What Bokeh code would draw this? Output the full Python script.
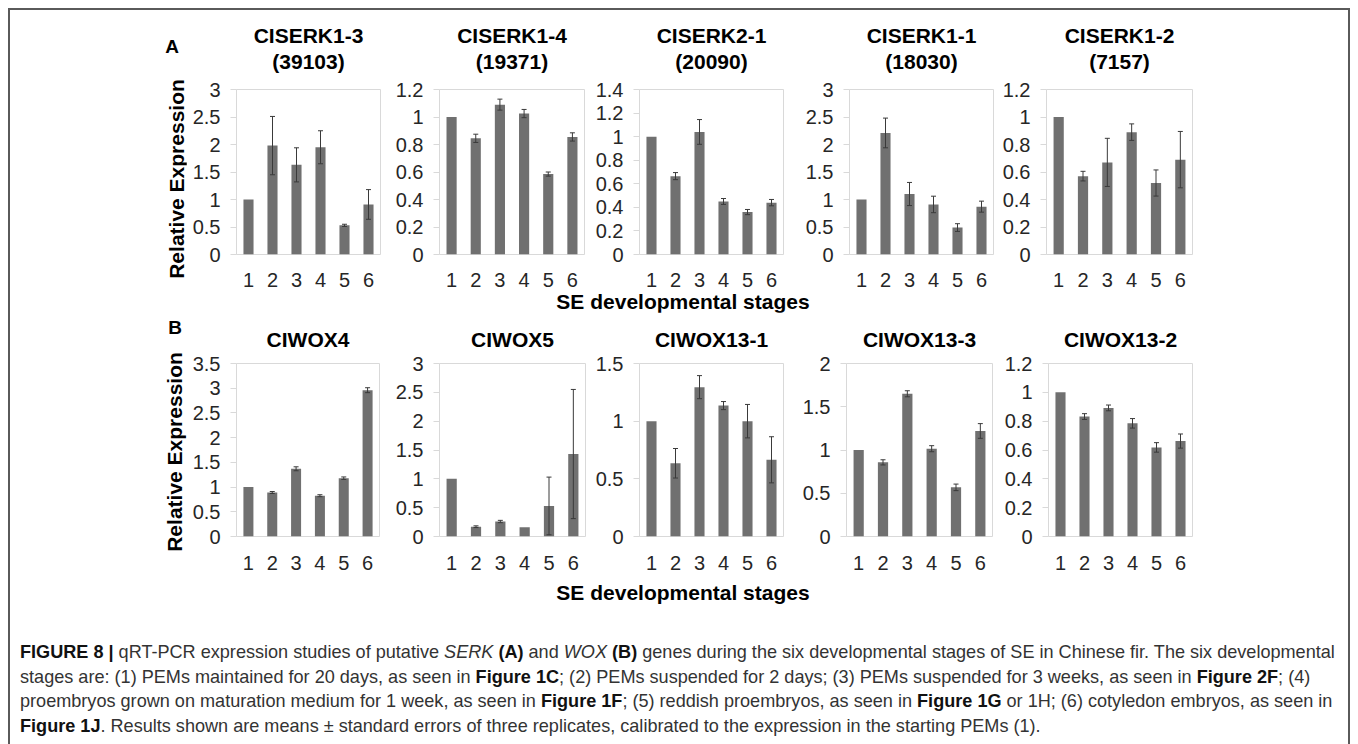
import numpy as np
from bokeh.plotting import figure
from bokeh.models import (ColumnDataSource, FactorRange, Range1d, FixedTicker,
                          CustomJSTickFormatter, Whisker, TeeHead, Div, CategoricalAxis)
from bokeh.layouts import row, column
from bokeh.embed import file_html
from bokeh.resources import INLINE

# ---------------- data ----------------
stages = ["1", "2", "3", "4", "5", "6"]

# (A) SERK genes
serk_names = ["CISERK1-3", "CISERK1-4", "CISERK2-1", "CISERK1-1", "CISERK1-2"]
serk_ids = ["(39103)", "(19371)", "(20090)", "(18030)", "(7157)"]
serk_ymax = [3, 1.2, 1.4, 3, 1.2]
serk_step = [0.5, 0.2, 0.2, 0.5, 0.2]
serk1_3_mean = [1.0, 1.98, 1.63, 1.95, 0.53, 0.91]
serk1_3_err = [0, 0.53, 0.31, 0.30, 0.02, 0.27]
serk1_4_mean = [1.0, 0.845, 1.09, 1.025, 0.585, 0.855]
serk1_4_err = [0, 0.03, 0.04, 0.03, 0.015, 0.03]
serk2_1_mean = [1.0, 0.665, 1.04, 0.45, 0.36, 0.44]
serk2_1_err = [0, 0.03, 0.105, 0.025, 0.022, 0.027]
serk1_1_mean = [1.0, 2.21, 1.10, 0.91, 0.49, 0.87]
serk1_1_err = [0, 0.27, 0.21, 0.15, 0.07, 0.10]
serk1_2_mean = [1.0, 0.57, 0.67, 0.89, 0.52, 0.69]
serk1_2_err = [0, 0.035, 0.175, 0.06, 0.095, 0.205]

# (B) WOX genes
wox_names = ["CIWOX4", "CIWOX5", "CIWOX13-1", "CIWOX13-3", "CIWOX13-2"]
wox_ymax = [3.5, 3, 1.5, 2, 1.2]
wox_step = [0.5, 0.5, 0.5, 0.5, 0.2]
wox4_mean = [1.0, 0.89, 1.37, 0.825, 1.18, 2.96]
wox4_err = [0, 0.02, 0.04, 0.02, 0.025, 0.05]
wox5_mean = [1.0, 0.17, 0.26, 0.16, 0.53, 1.43]
wox5_err = [0, 0.015, 0.02, 0, 0.5, 1.12]
wox13_1_mean = [1.0, 0.635, 1.295, 1.135, 1.0, 0.665]
wox13_1_err = [0, 0.128, 0.10, 0.035, 0.145, 0.20]
wox13_3_mean = [1.0, 0.857, 1.65, 1.015, 0.568, 1.22]
wox13_3_err = [0, 0.03, 0.035, 0.035, 0.038, 0.085]
wox13_2_mean = [1.0, 0.832, 0.892, 0.785, 0.618, 0.662]
wox13_2_err = [0, 0.02, 0.02, 0.033, 0.033, 0.049]

serk_means = [serk1_3_mean, serk1_4_mean, serk2_1_mean, serk1_1_mean, serk1_2_mean]
serk_errs = [serk1_3_err, serk1_4_err, serk2_1_err, serk1_1_err, serk1_2_err]
wox_means = [wox4_mean, wox5_mean, wox13_1_mean, wox13_3_mean, wox13_2_mean]
wox_errs = [wox4_err, wox5_err, wox13_1_err, wox13_3_err, wox13_2_err]

y_label = "Relative Expression"
x_label = "SE developmental stages"

# ---------------- layout constants ----------------
FONT = "Liberation Sans"
BAR = "#707070"
GRID = "#d9d9d9"
X0, X1 = 10, 1348          # content area (page coords)
SIDE_W = 176               # left strip holding panel letter + y label
ROW_A_L = [236, 439, 639, 849, 1046]
ROW_A_W = [144, 145, 144, 144, 146]
ROW_B_L = [236, 439, 639, 846, 1048]
ROW_B_W = [143, 146, 144, 146, 144]

fmt = CustomJSTickFormatter(code="return String(Math.round(tick*100)/100);")


def make_panel(name, sub, means, errs, ymax, step, mbl, fw, mbr, mbt, fh, mbb,
               title_standoff, xlab_standoff):
    p = figure(x_range=FactorRange(*stages), y_range=Range1d(0, ymax),
               frame_width=fw, frame_height=fh,
               min_border_left=mbl, min_border_right=mbr,
               min_border_top=mbt, min_border_bottom=mbb,
               toolbar_location=None, output_backend="svg", title=name)
    p.title.text_font = FONT
    p.title.text_font_size = "21px"
    p.title.text_font_style = "bold"
    p.title.text_color = "#000000"
    p.title.align = "center"
    p.title.standoff = title_standoff

    if sub:
        # second title line: label of a tick-less axis above the frame
        ax = CategoricalAxis(ticker=FixedTicker(ticks=[]), axis_label=sub)
        ax.axis_line_color = None
        ax.major_tick_line_color = None
        ax.minor_tick_line_color = None
        ax.major_tick_out = 0
        ax.major_tick_in = 0
        ax.minor_tick_out = 0
        ax.major_label_standoff = 0
        ax.axis_label_standoff = 17
        ax.axis_label_text_font = FONT
        ax.axis_label_text_font_size = "21px"
        ax.axis_label_text_font_style = "bold"
        ax.axis_label_text_color = "#000000"
        p.add_layout(ax, "above")

    p.vbar(x=stages, top=means, width=0.42, fill_color=BAR, line_color=None)

    xs = [s for s, e in zip(stages, errs) if e > 0]
    up = [m + e for m, e in zip(means, errs) if e > 0]
    lo = [m - e for m, e in zip(means, errs) if e > 0]
    src = ColumnDataSource(dict(x=xs, upper=up, lower=lo))
    w = Whisker(base="x", upper="upper", lower="lower", source=src,
                line_color="#3a3a3a", line_width=1, level="overlay",
                upper_head=TeeHead(size=5, line_color="#3a3a3a", line_width=1),
                lower_head=TeeHead(size=5, line_color="#3a3a3a", line_width=1))
    p.add_layout(w)

    p.xgrid.visible = False
    p.ygrid.visible = False
    p.outline_line_color = GRID
    p.outline_line_width = 1
    p.background_fill_color = "white"
    p.border_fill_color = "white"

    ticks = [float(t) for t in np.round(np.arange(0, ymax + 1e-9, step), 2)]
    p.yaxis.ticker = FixedTicker(ticks=ticks)
    p.yaxis.formatter = fmt
    p.yaxis.axis_line_color = None
    p.yaxis.major_tick_line_color = GRID
    p.yaxis.major_tick_out = 6
    p.yaxis.major_tick_in = 0
    p.yaxis.minor_tick_line_color = None
    p.yaxis.major_label_standoff = 10
    p.yaxis.major_label_text_font = FONT
    p.yaxis.major_label_text_font_size = "20px"
    p.yaxis.major_label_text_color = "#262626"

    xa = p.below[0]
    xa.axis_line_color = None
    xa.major_tick_line_color = None
    xa.minor_tick_line_color = None
    xa.major_label_standoff = xlab_standoff
    xa.major_label_text_font = FONT
    xa.major_label_text_font_size = "20px"
    xa.major_label_text_color = "#262626"
    return p


def side_div(letter, letter_xy, label_xy, height):
    html = (
        '<div style="position:relative;width:%dpx;height:%dpx;'
        'font-family:\'Liberation Sans\';font-weight:bold;color:#000;">'
        '<div style="position:absolute;left:%dpx;top:%dpx;transform:translate(-50%%,-50%%);'
        'font-size:19px;line-height:22px;">%s</div>'
        '<div style="position:absolute;left:%dpx;top:%dpx;'
        'transform:translate(-50%%,-50%%) rotate(-90deg);font-size:21px;line-height:24px;'
        'white-space:nowrap;">%s</div></div>'
        % (SIDE_W, height, letter_xy[0], letter_xy[1], letter,
           label_xy[0], label_xy[1], y_label))
    return Div(text=html, width=SIDE_W, height=height, margin=(0, 0, 0, 0))


def make_row(names, subs, means, errs, ymaxs, steps, lefts, widths, mbt, fh, mbb,
             standoff, xlab_standoff, side):
    items = [side]
    start = X0 + SIDE_W
    for i in range(5):
        mbl = lefts[i] - start
        right = lefts[i] + widths[i]
        mbr = (X1 - right) if i == 4 else 5
        items.append(make_panel(names[i], subs[i] if subs else None, means[i], errs[i],
                                ymaxs[i], steps[i], mbl, widths[i], mbr, mbt, fh, mbb,
                                standoff, xlab_standoff))
        start = right + mbr
    return row(items, spacing=0)


# row A: page y 10..292 ; row B: page y 312..574
H_A = 79 + 165 + 38
H_B = 51 + 173 + 38
sideA = side_div("A", (162, 37), (167, 169), H_A)
sideB = side_div("B", (165, 16), (165, 140), H_B)

rowA = make_row(serk_names, serk_ids, serk_means, serk_errs, serk_ymax, serk_step,
                ROW_A_L, ROW_A_W, 79, 165, 38, 0, 12, sideA)
rowB = make_row(wox_names, None, wox_means, wox_errs, wox_ymax, wox_step,
                ROW_B_L, ROW_B_W, 51, 173, 38, 25, 13, sideB)


def se_div(h):
    html = ('<div style="width:400px;margin-left:473px;text-align:center;'
            'font-family:\'Liberation Sans\';font-size:21px;font-weight:bold;'
            'color:#000;line-height:%dpx;white-space:nowrap;">%s</div>' % (h, x_label))
    return Div(text=html, width=X1 - X0, height=h, margin=(0, 0, 0, 0))


B = '<b style="color:#111">'
caption_html = (
    '<div style="padding:28px 0 0 10px;font-family:\'Liberation Sans\';font-size:18.1px;'
    'line-height:24.5px;color:#333;white-space:nowrap;">'
    + B + 'FIGURE 8 |</b> qRT-PCR expression studies of putative <i>SERK</i> '
    + B + '(A)</b> and <i>WOX</i> ' + B + '(B)</b> genes during the six '
    'developmental stages of SE in Chinese fir. The six developmental<br>'
    'stages are: (1) PEMs maintained for 20 days, as seen in ' + B + 'Figure 1C</b>; '
    '(2) PEMs suspended for 2 days; (3) PEMs suspended for 3 weeks, as seen in '
    + B + 'Figure 2F</b>; (4)<br>'
    'proembryos grown on maturation medium for 1 week, as seen in ' + B + 'Figure 1F</b>; '
    '(5) reddish proembryos, as seen in ' + B + 'Figure 1G</b> or 1H; (6) cotyledon '
    'embryos, as seen in<br>'
    + B + 'Figure 1J</b>. Results shown are means &plusmn; standard errors of three '
    'replicates, calibrated to the expression in the starting PEMs (1).</div>')
caption = Div(text=caption_html, width=X1 - X0, height=132, margin=(0, 0, 0, 0))

content = column([rowA, se_div(20), rowB, se_div(38), caption], spacing=0)

LINE = "#5a5a5a"
top_line = Div(text="", width=X1 - X0 + 4, height=2, margin=(0, 0, 0, 0),
               styles={"background-color": LINE})
left_line = Div(text="", width=2, height=734, margin=(0, 0, 0, 0),
                styles={"background-color": LINE})
right_line = Div(text="", width=2, height=734, margin=(0, 0, 0, 0),
                 styles={"background-color": LINE})

p = column([top_line, row([left_line, content, right_line], spacing=0)],
           spacing=0, margin=(8, 0, 0, 8))

open("out.html", "w").write(file_html(p, INLINE))
